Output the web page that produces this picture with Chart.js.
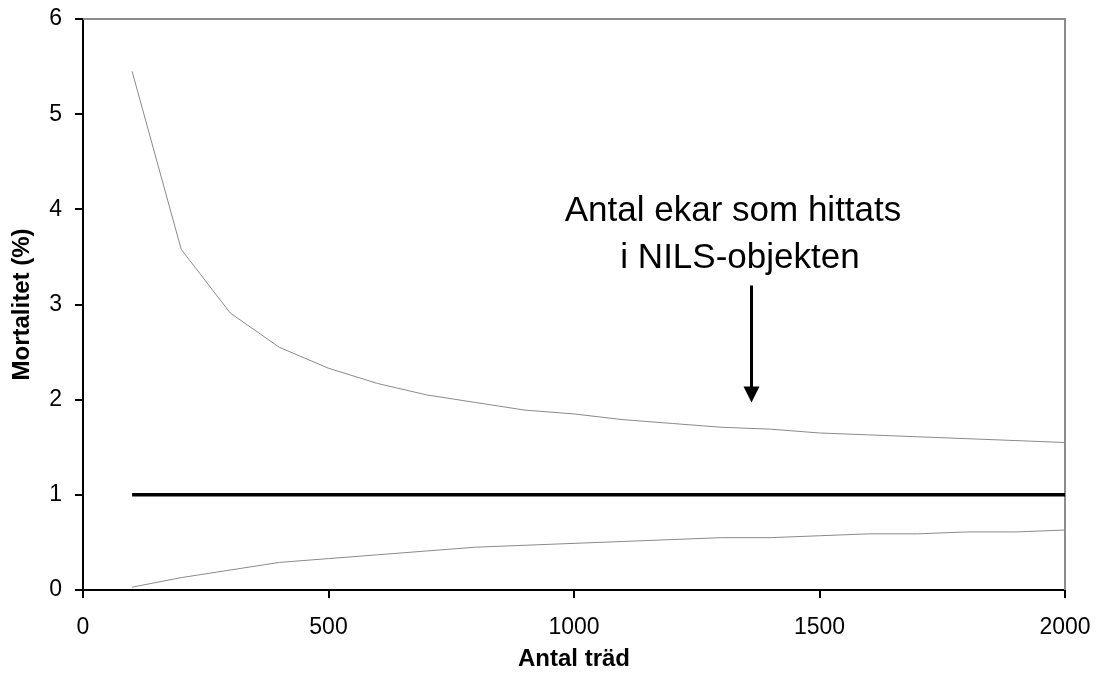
<!DOCTYPE html>
<html>
<head>
<meta charset="utf-8">
<title>Mortalitet</title>
<script src="https://cdn.jsdelivr.net/npm/chart.js@4/dist/chart.umd.min.js"></script>
<style>
  html, body { margin: 0; padding: 0; background: #ffffff; }
  #wrap { width: 1096px; height: 683px; }
</style>
</head>
<body>
<div id="wrap"><canvas id="c" width="1096" height="683"></canvas></div>
<script>
// Antal träd (sample size)
const antalTrad = [100, 200, 300, 400, 500, 600, 700, 800, 900, 1000,
                   1100, 1200, 1300, 1400, 1500, 1600, 1700, 1800, 1900, 2000];
// Upper confidence limit (%)
const ovreGrans = [5.45, 3.58, 2.91, 2.55, 2.33, 2.17, 2.05, 1.97, 1.89, 1.85,
                   1.79, 1.75, 1.71, 1.69, 1.65, 1.63, 1.61, 1.59, 1.57, 1.55];
// Lower confidence limit (%)
const undreGrans = [0.03, 0.13, 0.21, 0.29, 0.33, 0.37, 0.41, 0.45, 0.47, 0.49,
                    0.51, 0.53, 0.55, 0.55, 0.57, 0.59, 0.59, 0.61, 0.61, 0.63];
// True mortality (%)
const mortalitet = [1, 1, 1, 1, 1, 1, 1, 1, 1, 1,
                    1, 1, 1, 1, 1, 1, 1, 1, 1, 1];

const yTicks = [0, 1, 2, 3, 4, 5, 6];
const xTicks = [0, 500, 1000, 1500, 2000];

const annotationLines = ['Antal ekar som hittats', 'i NILS-objekten'];
const arrowAtTrees = 1360;

const FONT = '"Liberation Sans", Arial, Helvetica, sans-serif';

function pts(ys) { return antalTrad.map((x, i) => ({ x: x, y: ys[i] })); }

// Gray frame on the top and right edges of the plot area
const framePlugin = {
  id: 'frame',
  beforeDatasetsDraw(chart) {
    const { ctx, chartArea: a } = chart;
    ctx.save();
    ctx.strokeStyle = '#8c8c8c';
    ctx.lineWidth = 2;
    ctx.beginPath();
    ctx.moveTo(a.left, a.top);
    ctx.lineTo(a.right, a.top);
    ctx.lineTo(a.right, a.bottom);
    ctx.stroke();
    ctx.restore();
  }
};

// Text note with a downward arrow
const notePlugin = {
  id: 'note',
  afterDatasetsDraw(chart) {
    const { ctx } = chart;
    const xs = chart.scales.x, ys = chart.scales.y;
    const ax = Math.round(xs.getPixelForValue(arrowAtTrees)) + 0.5;
    const yTop = ys.getPixelForValue(3.2);
    const yTip = ys.getPixelForValue(1.97);
    ctx.save();
    ctx.fillStyle = '#000';
    ctx.font = '35px ' + FONT;
    ctx.textAlign = 'center';
    ctx.textBaseline = 'alphabetic';
    ctx.fillText(annotationLines[0], 733, 221);
    ctx.fillText(annotationLines[1], 740, 268);
    ctx.strokeStyle = '#000';
    ctx.lineWidth = 3;
    ctx.beginPath();
    ctx.moveTo(ax, yTop);
    ctx.lineTo(ax, yTip - 14);
    ctx.stroke();
    ctx.beginPath();
    ctx.moveTo(ax - 8, yTip - 16);
    ctx.lineTo(ax + 8, yTip - 16);
    ctx.lineTo(ax, yTip);
    ctx.closePath();
    ctx.fill();
    ctx.restore();
  }
};

new Chart(document.getElementById('c'), {
  type: 'line',
  data: {
    datasets: [
      { data: pts(ovreGrans), borderColor: '#8a8a8a', borderWidth: 1, pointRadius: 0, tension: 0 },
      { data: pts(mortalitet), borderColor: '#000000', borderWidth: 3.5, pointRadius: 0, tension: 0 },
      { data: pts(undreGrans), borderColor: '#8a8a8a', borderWidth: 1, pointRadius: 0, tension: 0 }
    ]
  },
  options: {
    responsive: false,
    animation: false,
    devicePixelRatio: 1,
    layout: { padding: { top: 19, right: 31, left: 0, bottom: 0 } },
    plugins: { legend: { display: false }, tooltip: { enabled: false } },
    scales: {
      x: {
        type: 'linear',
        min: 0, max: 2000,
        afterFit(s) { s.height = 93; s.paddingLeft = 0; s.paddingRight = 0; },
        afterBuildTicks(s) { s.ticks = xTicks.map(v => ({ value: v })); },
        grid: { display: true, drawOnChartArea: false, drawTicks: true, tickLength: 8, color: '#000', lineWidth: 2 },
        border: { display: true, color: '#000', width: 2 },
        ticks: { color: '#000', font: { family: FONT, size: 23 }, padding: 16, maxRotation: 0,
                 callback: v => String(v) },
        title: { display: true, text: 'Antal träd', color: '#000',
                 font: { family: FONT, size: 24, weight: 'bold' }, padding: { top: 0, bottom: 9 } }
      },
      y: {
        min: 0, max: 6,
        afterFit(s) { s.width = 83; s.paddingTop = 0; s.paddingBottom = 0; },
        afterBuildTicks(s) { s.ticks = yTicks.map(v => ({ value: v })); },
        grid: { display: true, drawOnChartArea: false, drawTicks: true, tickLength: 8, color: '#000', lineWidth: 2 },
        border: { display: true, color: '#000', width: 2 },
        ticks: { color: '#000', font: { family: FONT, size: 23 }, padding: 13,
                 callback: v => String(v) },
        title: { display: true, text: 'Mortalitet (%)', color: '#000',
                 font: { family: FONT, size: 24, weight: 'bold' }, padding: { top: 8, bottom: 0 } }
      }
    }
  },
  plugins: [framePlugin, notePlugin]
});
</script>
</body>
</html>
